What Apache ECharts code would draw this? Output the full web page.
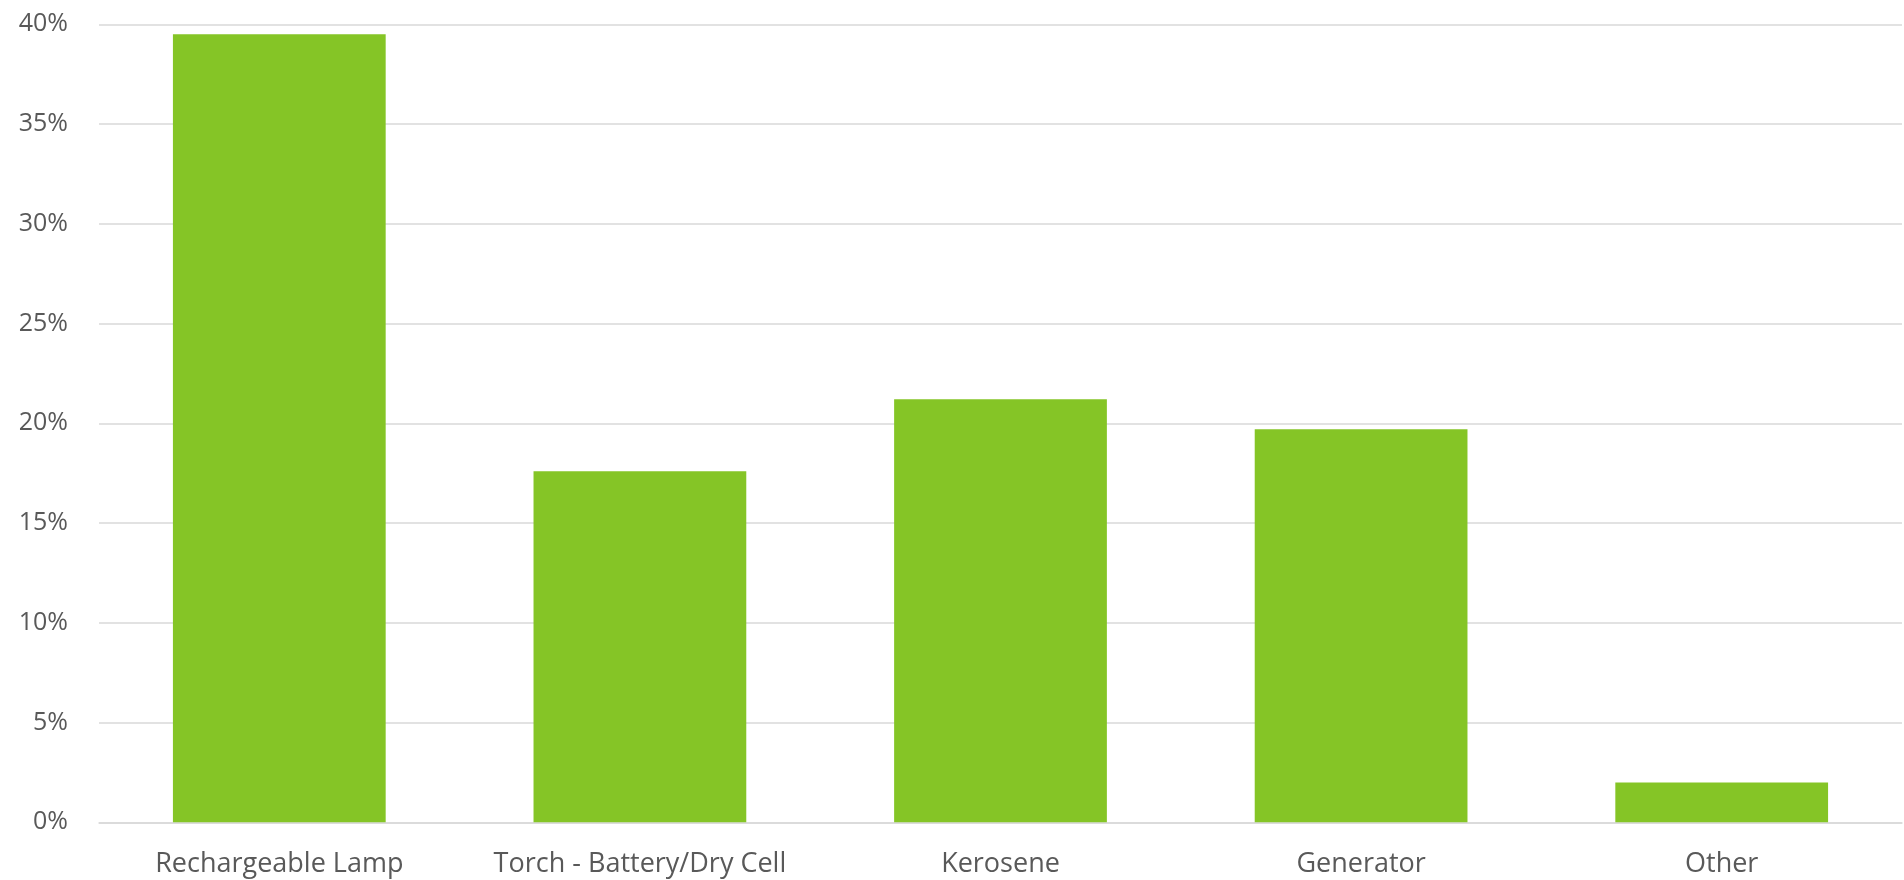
<!DOCTYPE html>
<html>
<head>
<meta charset="utf-8">
<script src="https://cdn.jsdelivr.net/npm/echarts@6/dist/echarts.min.js"></script>
<style>
  html, body { margin: 0; padding: 0; background: #ffffff; }
  #chart { width: 1904px; height: 880px; }
</style>
</head>
<body>
<div id="chart"></div>
<script>
// Lighting source shares (percent of households)
const categories = ['Rechargeable Lamp', 'Torch - Battery/Dry Cell', 'Kerosene', 'Generator', 'Other'];
const shares = [39.5, 17.6, 21.2, 19.7, 2.0];
const yTicks = { min: 0, max: 40, interval: 5 };

const chart = echarts.init(document.getElementById('chart'), null, { renderer: 'canvas' });

const textColor = '#595959';
const gridColor = '#d9d9d9';
const fontFamily = '"Open Sans", "Liberation Sans", sans-serif';

chart.setOption({
  animation: false,
  grid: { left: 99, right: 2, top: 24.3, bottom: 57.7, containLabel: false },
  xAxis: {
    type: 'category',
    data: categories,
    axisLine: { show: true, lineStyle: { color: gridColor, width: 1.5 } },
    axisTick: { show: false },
    axisLabel: {
      color: textColor, fontSize: 27, fontFamily: fontFamily, margin: 29,
      interval: 0, hideOverlap: false
    }
  },
  yAxis: {
    type: 'value',
    min: yTicks.min,
    max: yTicks.max,
    interval: yTicks.interval,
    axisLine: { show: false },
    axisTick: { show: false },
    splitLine: { lineStyle: { color: gridColor, width: 1.5 } },
    axisLabel: {
      color: textColor, fontSize: 25, fontFamily: fontFamily, margin: 31,
      formatter: v => v + '%'
    }
  },
  series: [{
    type: 'bar',
    data: shares,
    barWidth: '59%',
    itemStyle: { color: '#85c526' }
  }]
});
</script>
</body>
</html>
